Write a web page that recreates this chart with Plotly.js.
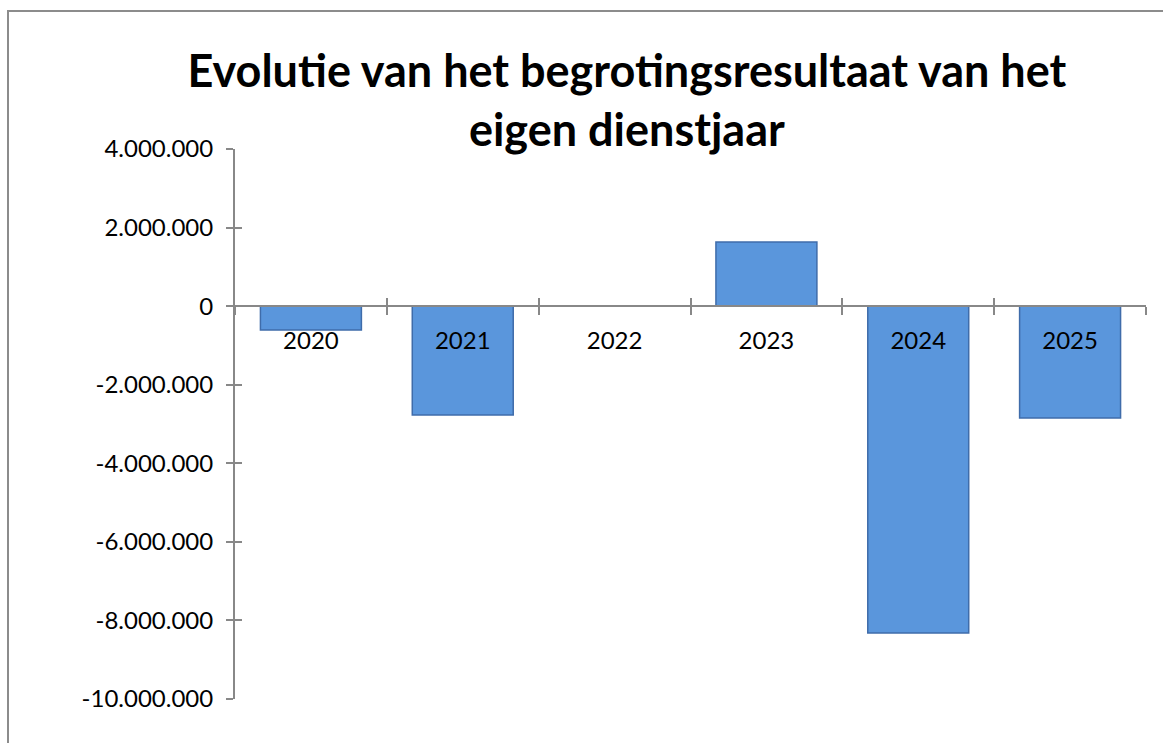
<!DOCTYPE html>
<html>
<head>
<meta charset="utf-8">
<script src="https://cdn.plot.ly/plotly-3.0.1.min.js"></script>
<style>
  html, body { margin: 0; padding: 0; background: #ffffff; }
  #wrap { position: relative; width: 1163px; height: 743px; overflow: hidden; }
  #chart { position: absolute; left: 0; top: 0; width: 1163px; height: 743px; }
  #frame { position: absolute; left: 7px; top: 10px; width: 1170px; height: 760px;
           border-left: 2px solid #8c8c8c; border-top: 2px solid #8c8c8c; pointer-events: none; }
</style>
</head>
<body>
<div id="wrap">
  <div id="chart"></div>
  <div id="frame"></div>
</div>
<script>
// Data
const years = ['2020', '2021', '2022', '2023', '2024', '2025'];
const results = [-610000, -2770000, 0, 1630000, -8320000, -2850000];
const yTickVals = [4000000, 2000000, 0, -2000000, -4000000, -6000000, -8000000, -10000000];
const yTickText = ['4.000.000', '2.000.000', '0', '-2.000.000', '-4.000.000', '-6.000.000', '-8.000.000', '-10.000.000'];
const titleText = 'Evolutie van het begrotingsresultaat van het<br>eigen dienstjaar';

const yMin = -10000000, yMax = 4000000;
const zeroPos = (0 - yMin) / (yMax - yMin);
const axisColor = '#888888';
const fontFam = 'Lato, "Open Sans", sans-serif';

const trace = {
  type: 'bar',
  x: years,
  y: results,
  marker: { color: '#5A96DC', line: { color: '#3F6CAA', width: 1.5 } },
  hoverinfo: 'x+y'
};
// invisible helper trace for the second (inside-tick) axes
const helper = {
  type: 'scatter', x: years, y: results, xaxis: 'x2', yaxis: 'y2',
  mode: 'markers', marker: { opacity: 0 }, hoverinfo: 'skip', showlegend: false
};

const layout = {
  width: 1163, height: 743,
  margin: { l: 235, r: 17, t: 149, b: 44 },
  paper_bgcolor: '#ffffff', plot_bgcolor: '#ffffff',
  showlegend: false,
  bargap: 0.335,
  title: {
    text: titleText,
    font: { family: fontFam, size: 45, color: '#000000', weight: 'bold' },
    x: 0.539, xanchor: 'center',
    xref: 'container',
    y: 1 - 87 / 743, yanchor: 'top', yref: 'container'
  },
  xaxis: {
    type: 'category',
    anchor: 'free', position: zeroPos,
    showline: true, linecolor: axisColor, linewidth: 2,
    ticks: 'outside', ticklen: 8, tickwidth: 2, tickcolor: axisColor,
    tickson: 'boundaries',
    showgrid: false, zeroline: false,
    tickfont: { family: fontFam, size: 24, color: '#000000' },
    ticklabelstandoff: 13,
    range: [-0.5, 5.5]
  },
  xaxis2: {
    type: 'category', overlaying: 'x', anchor: 'free', position: zeroPos,
    showline: false, ticks: 'inside', ticklen: 8, tickwidth: 2, tickcolor: axisColor,
    tickson: 'boundaries', showticklabels: false, showgrid: false, zeroline: false,
    range: [-0.5, 5.5]
  },
  yaxis: {
    range: [yMin, yMax],
    tickvals: yTickVals, ticktext: yTickText,
    showline: true, linecolor: axisColor, linewidth: 2,
    ticks: 'outside', ticklen: 7, tickwidth: 2, tickcolor: axisColor,
    showgrid: false, zeroline: false,
    tickfont: { family: fontFam, size: 24, color: '#000000' },
    ticklabelstandoff: 8
  },
  yaxis2: {
    range: [yMin, yMax], overlaying: 'y', anchor: 'x',
    tickvals: yTickVals, ticks: 'inside', ticklen: 7, tickwidth: 2, tickcolor: axisColor,
    showticklabels: false, showgrid: false, zeroline: false, showline: false
  }
};

Plotly.newPlot('chart', [trace, helper], layout, { displayModeBar: false, staticPlot: true });
</script>
</body>
</html>
